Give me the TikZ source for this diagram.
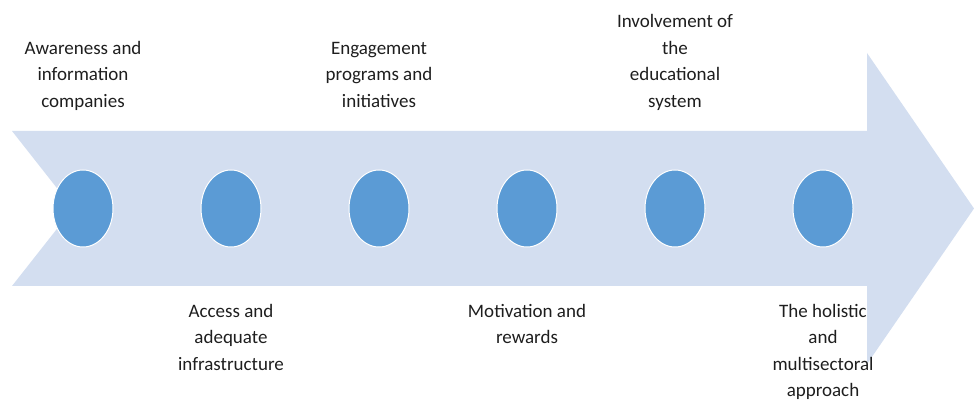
\documentclass[tikz,border=0pt]{standalone}
\usepackage{fontspec}
\setmainfont{Carlito}
\usepackage{tikz}
\usetikzlibrary{positioning,shapes.geometric}
\definecolor{ink}{RGB}{30,30,30}
\definecolor{band}{RGB}{211,222,240}
\definecolor{dot}{RGB}{91,155,213}
\tikzset{
  stage/.style={ellipse,draw=white,line width=1pt,fill=dot,
    minimum width=60pt,minimum height=77pt,inner sep=0pt},
  lbl/.style={font=\fontsize{19}{26.5}\selectfont,text=ink,
    align=center,inner sep=0pt,anchor=base},
}

\begin{document}
\begin{tikzpicture}[x=1pt,y=1pt,node distance=87pt]
  \useasboundingbox (0,0) rectangle (974,401);
  % band with notched tail and head
  \fill[band] (12,270) -- (867,270) -- (867,348) -- (974,192.5)
    -- (867,37) -- (867,115) -- (12,115) -- (73,192.5) -- cycle;
  % stages
  \node[stage] (e1) at (83,192.5) {};
  \node[stage,right=of e1] (e2) {};
  \node[stage,right=of e2] (e3) {};
  \node[stage,right=of e3] (e4) {};
  \node[stage,right=of e4] (e5) {};
  \node[stage,right=of e5] (e6) {};
  % labels above (base = last line)
  \node[lbl] (l1) at (e1 |- 0,293.5) {Awareness and\\information\\companies};
  \node[lbl] (l3) at (e3 |- 0,293.5) {Engagement\\programs and\\initiatives};
  \node[lbl] (l5) at (e5 |- 0,293.5) {Involvement of\\the\\educational\\system};
  % labels below
  \node[lbl] (l2) at (e2 |- 0,30.5) {Access and\\adequate\\infrastructure};
  \node[lbl] (l4) at (e4 |- 0,57) {Motivation and\\rewards};
  \node[lbl] (l6) at (e6 |- 0,4) {The holistic\\and\\multisectoral\\approach};
\end{tikzpicture}
\end{document}
